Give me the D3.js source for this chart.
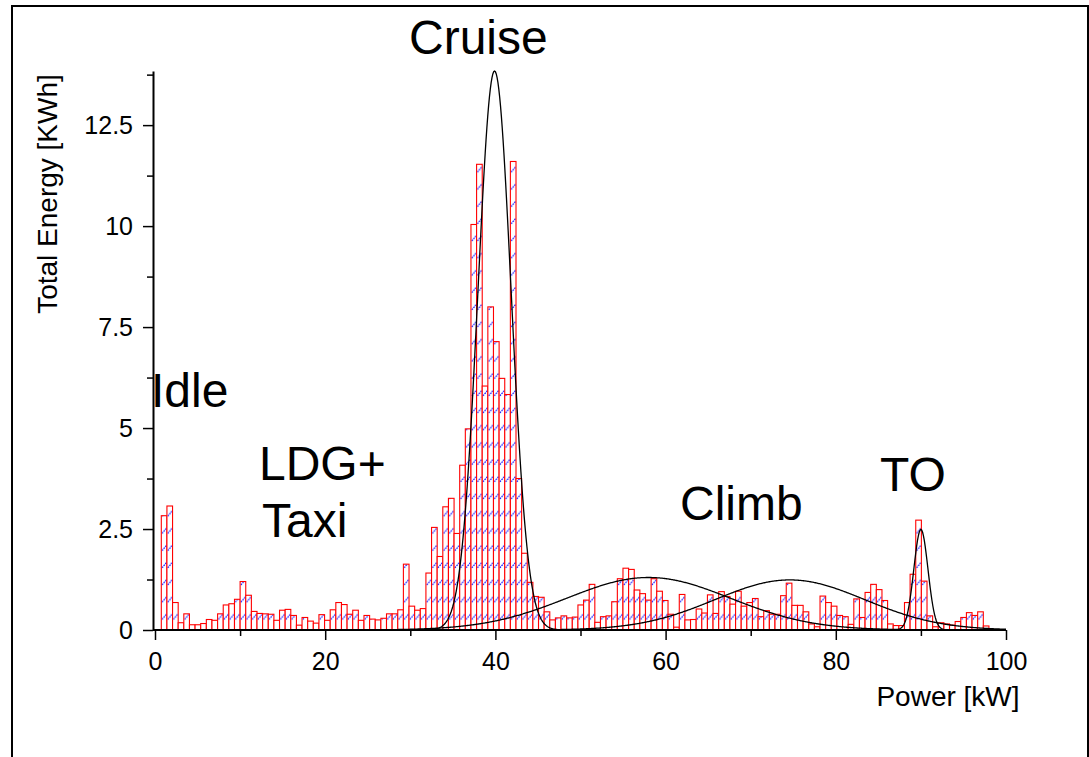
<!DOCTYPE html>
<html>
<head>
<meta charset="utf-8">
<script src="https://cdn.jsdelivr.net/npm/d3@7"></script>
<style>
  html, body { margin: 0; padding: 0; background: #fff; }
  svg { display: block; font-family: "Liberation Sans", Arial, sans-serif; }
</style>
</head>
<body>
<div class="chart-box"></div>
<script>
/**
 * Histogram bins: first bin edge and width, in kW
 */
const binStart = 0.74;
const binWidth = 0.6616;

/**
 * Total energy per power bin [KWh]
 */
const energy = [
  2.83, 3.07, 0.68, 0.18, 0.40, 0.13, 0.13, 0.16, 0.26, 0.24,
  0.40, 0.62, 0.65, 0.76, 1.20, 0.86, 0.46, 0.41, 0.40, 0.39,
  0.24, 0.49, 0.51, 0.36, 0.12, 0.31, 0.22, 0.17, 0.38, 0.24,
  0.50, 0.68, 0.63, 0.39, 0.49, 0.24, 0.36, 0.27, 0.25, 0.29,
  0.40, 0.40, 0.50, 1.63, 0.59, 0.49, 0.53, 1.41, 2.54, 1.82,
  3.05, 3.26, 2.39, 4.08, 4.98, 10.04, 11.53, 6.04, 8.00, 7.14,
  6.23, 5.83, 11.60, 3.75, 1.90, 1.18, 0.83, 0.81, 0.45, 0.25,
  0.30, 0.35, 0.30, 0.32, 0.62, 0.74, 1.13, 0.19, 0.33, 0.35,
  0.70, 1.27, 1.53, 1.50, 0.99, 0.90, 0.74, 1.27, 0.96, 0.73,
  0.39, 0.07, 0.88, 0.25, 0.26, 0.52, 0.42, 0.87, 0.41, 0.95,
  0.83, 0.64, 0.96, 0.59, 0.68, 0.78, 0.33, 0.48, 0.39, 0.39,
  0.85, 1.16, 0.61, 0.61, 0.45, 0.15, 0.08, 0.84, 0.68, 0.59,
  0.36, 0.33, 0.14, 0.77, 0.31, 0.93, 1.13, 1.00, 0.73, 0.15,
  0.11, 0.11, 0.68, 1.38, 2.72, 1.21, 0.35, 0.08, 0.18, 0.15,
  0.12, 0.21, 0.31, 0.43, 0.36, 0.45, 0.10
];

/**
 * Gaussian fits of the flight phases (centre kW, peak KWh, sigma kW)
 */
const fitNames = ['Cruise', 'Climb 1', 'Climb 2', 'TO'];
const fitCenters = [39.9, 58.0, 74.6, 90.0];
const fitPeaks = [13.84, 1.30, 1.24, 2.49];
const fitSigmas = [1.95, 9.6, 8.8, 0.83];

/**
 * Axis ticks
 */
const xTicks = [0, 20, 40, 60, 80, 100];
const xMinorTicks = [10, 30, 50, 70, 90];
const yTicks = [0, 2.5, 5, 7.5, 10, 12.5];
const yMinorTicks = [1.25, 3.75, 6.25, 8.75, 11.25, 13.75];

const phaseLabels = ['Cruise', 'Idle', 'LDG+', 'Taxi', 'Climb', 'TO'];

const W = 1089, H = 757;

let svg = d3.select('.chart-box')
  .append('svg')
    .attr('width', W)
    .attr('height', H);

let x = d3.scaleLinear().domain([0, 100]).range([155, 1006]);
let y = d3.scaleLinear().domain([0, 13.84]).range([630, 71]);

// outer frame (runs off the bottom of the picture)
svg.append('rect')
  .attr('x', 12)
  .attr('y', 6)
  .attr('width', 1076)
  .attr('height', 820)
  .attr('fill', 'none')
  .attr('stroke', '#000')
  .attr('stroke-width', 2);

// hatch pattern, one tile per bin width
let barW = x(binStart + binWidth) - x(binStart);
let hatch = svg.append('defs').append('pattern')
  .attr('id', 'hatch')
  .attr('patternUnits', 'userSpaceOnUse')
  .attr('x', x(binStart))
  .attr('y', y(0))
  .attr('width', barW)
  .attr('height', 17.2);

hatch.append('rect')
  .attr('width', barW)
  .attr('height', 17.2)
  .attr('fill', '#fff');

hatch.append('line')
  .attr('x1', 0.8).attr('y1', 6.6)
  .attr('x2', barW - 0.4).attr('y2', 1.4)
  .attr('stroke', '#0000ff')
  .attr('stroke-width', 1.2)
  .attr('stroke-dasharray', '1.6,0.9');

// bars
svg.append('g')
  .attr('class', 'bars')
  .selectAll('rect')
  .data(energy)
  .enter().append('rect')
    .attr('x', (d, i) => x(binStart + i * binWidth))
    .attr('y', d => y(d))
    .attr('width', (d, i) => x(binStart + (i + 1) * binWidth) - x(binStart + i * binWidth))
    .attr('height', d => y(0) - y(d))
    .attr('fill', 'url(#hatch)')
    .attr('stroke', '#ff0000')
    .attr('stroke-width', 1.1);

// fitted peaks
let xs = d3.range(0, 100.01, 0.1);
let line = d3.line().x(d => x(d[0])).y(d => y(d[1]));

fitNames.forEach((name, k) => {
  let pts = xs.map(v => [v, fitPeaks[k] * Math.exp(-Math.pow(v - fitCenters[k], 2) / (2 * fitSigmas[k] * fitSigmas[k]))]);
  svg.append('path')
    .datum(pts)
    .attr('class', 'fit')
    .attr('fill', 'none')
    .attr('stroke', '#000')
    .attr('stroke-width', 1.3)
    .attr('d', line);
});

// x axis
let xAxis = svg.append('g')
  .attr('class', 'x axis')
  .attr('transform', 'translate(0, ' + y(0) + ')')
  .call(d3.axisBottom(x)
    .tickValues(xTicks)
    .tickSize(10)
    .tickSizeOuter(0)
    .tickPadding(12)
    .tickFormat(d => d));

svg.append('g')
  .attr('transform', 'translate(0, ' + y(0) + ')')
  .call(d3.axisBottom(x)
    .tickValues(xMinorTicks)
    .tickSize(6)
    .tickSizeOuter(0)
    .tickFormat(''))
  .select('.domain').remove();

xAxis.select('.domain')
  .attr('d', 'M153,0H' + x(100));

// y axis
let yAxis = svg.append('g')
  .attr('class', 'y axis')
  .attr('transform', 'translate(153, 0)')
  .call(d3.axisLeft(y)
    .tickValues(yTicks)
    .tickSize(10)
    .tickSizeOuter(0)
    .tickPadding(10)
    .tickFormat(d => d));

svg.append('g')
  .attr('transform', 'translate(153, 0)')
  .call(d3.axisLeft(y)
    .tickValues(yMinorTicks)
    .tickSize(6)
    .tickSizeOuter(0)
    .tickFormat(''))
  .select('.domain').remove();

svg.selectAll('.domain').attr('stroke', '#000').attr('stroke-width', 2);
svg.selectAll('.tick line').attr('stroke', '#000').attr('stroke-width', 1.5);
svg.selectAll('.tick text')
  .attr('fill', '#000')
  .style('font-size', '25px')
  .style('font-family', '"Liberation Sans", Arial, sans-serif');

// axis titles
svg.append('text')
  .attr('x', 948)
  .attr('y', 706)
  .attr('text-anchor', 'middle')
  .style('font-size', '28px')
  .text('Power [kW]');

svg.append('text')
  .attr('transform', 'translate(57, 194) rotate(-90)')
  .attr('text-anchor', 'middle')
  .style('font-size', '28px')
  .text('Total Energy [KWh]');

// phase annotations
let labelPos = [[409, 54], [151, 407], [259, 480], [262, 537], [680, 520], [880, 491]];
svg.append('g')
  .attr('class', 'phases')
  .selectAll('text')
  .data(phaseLabels)
  .enter().append('text')
    .attr('x', (d, i) => labelPos[i][0])
    .attr('y', (d, i) => labelPos[i][1])
    .style('font-size', '48px')
    .text(d => d);
</script>
</body>
</html>
